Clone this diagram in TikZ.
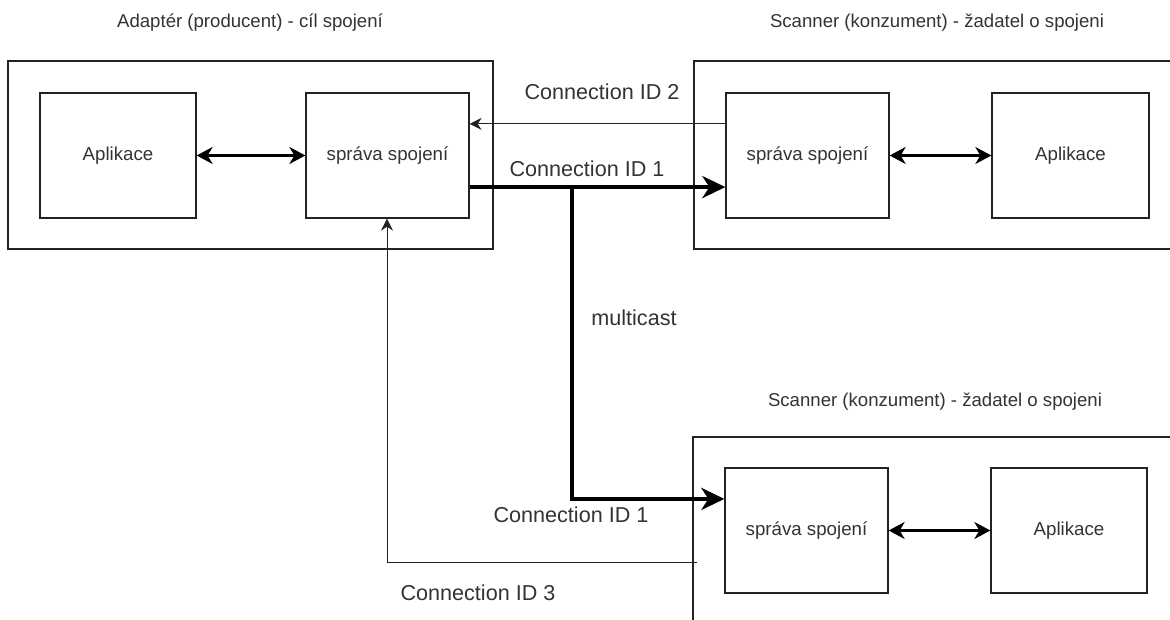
\documentclass[tikz,border=0pt]{standalone}
\usepackage{fontspec}
\setmainfont{Liberation Sans}
\usetikzlibrary{arrows.meta,calc}
\definecolor{txt}{HTML}{333333}
\definecolor{ln}{HTML}{222222}
\tikzset{
  outerbox/.style={draw=ln, line width=1.3pt, rectangle, inner sep=0pt},
  innerbox/.style={draw=ln, line width=1.3pt, rectangle, inner sep=0pt, minimum height=125pt, text=txt, font=\fontsize{18.7}{22}\selectfont},
  ttl/.style={text=txt, font=\fontsize{18.6}{22}\selectfont, anchor=base, inner sep=0pt},
  lbl/.style={text=txt, font=\fontsize{21.6}{26}\selectfont, anchor=base, inner sep=0pt},
  thinarrow/.style={draw=ln, line width=1pt, -{Stealth[length=12pt,width=12pt,inset=4pt]}},
  thickarrow/.style={draw=black, line width=4pt, -{Stealth[length=23pt,width=22pt,inset=7pt]}},
  thickline/.style={draw=black, line width=4pt},
  dblarrow/.style={draw=black, line width=2.2pt, {Stealth[length=16pt,width=17pt,inset=5pt]}-{Stealth[length=16pt,width=17pt,inset=5pt]}},
}
\begin{document}
\begin{tikzpicture}[x=1pt,y=-1pt]
\useasboundingbox (0,0) rectangle (1170,620);
\clip (0,0) rectangle (1170,620);
\fill[white] (0,0) rectangle (1170,620);

% titles
\node[ttl] (t1) at (250,28) {Adaptér (producent) - cíl spojení};
\node[ttl] (t2) at (937,28) {Scanner (konzument) - žadatel o spojeni};
\node[ttl] (t3) at (935,406) {Scanner (konzument) - žadatel o spojeni};

% outer boxes
\node[outerbox, minimum width=485pt, minimum height=188pt] (oL) at (250.5,155) {};
\node[outerbox, minimum width=496pt, minimum height=188pt] (oR) at (942,155) {};
\node[outerbox, minimum width=497pt, minimum height=213pt] (oB) at (941.5,543.5) {};

% inner boxes
\node[innerbox, minimum width=156pt] (aL) at (118,155.5) {Aplikace};
\node[innerbox, minimum width=163pt] (sL) at (387.5,155.5) {správa spojení};
\node[innerbox, minimum width=163pt] (sR) at (807.5,155.5) {správa spojení};
\node[innerbox, minimum width=157pt] (aR) at (1070.5,155.5) {Aplikace};
\node[innerbox, minimum width=163pt] (sB) at (806.5,530.5) {správa spojení};
\node[innerbox, minimum width=156pt] (aB) at (1069,530.5) {Aplikace};

% double arrows
\draw[dblarrow] (aL.east) -- (sL.west);
\draw[dblarrow] (sR.east) -- (aR.west);
\draw[dblarrow] (sB.east) -- (aB.west);

% Connection ID 2
\coordinate (c2s) at ($(sR.north west)!0.25!(sR.south west)$);
\draw[thinarrow] (c2s) -- (c2s -| sL.east);

% Connection ID 1 (top)
\coordinate (c1s) at ($(sL.north east)!0.75!(sL.south east)$);
\draw[thickarrow] (c1s) -- (c1s -| sR.west);

% multicast
\coordinate (m1) at (572,186.75);
\coordinate (bIn) at ($(sB.north west)!0.25!(sB.south west)$);
\draw[thickarrow] (m1) -- (m1 |- bIn) -- (bIn);

% Connection ID 3
\coordinate (c3) at (697,562);
\coordinate (c3t) at (387,218);
\draw[thinarrow] (c3) -- (c3 -| c3t) -- (c3t |- sL.south);

% labels
\node[lbl] (l2) at (602,100) {Connection ID 2};
\node[lbl] (l1) at (587,177) {Connection ID 1};
\node[lbl] (lm) at (634,326) {multicast};
\node[lbl] (l1b) at (571,522) {Connection ID 1};
\node[lbl] (l3) at (478,600) {Connection ID 3};
\end{tikzpicture}
\end{document}
